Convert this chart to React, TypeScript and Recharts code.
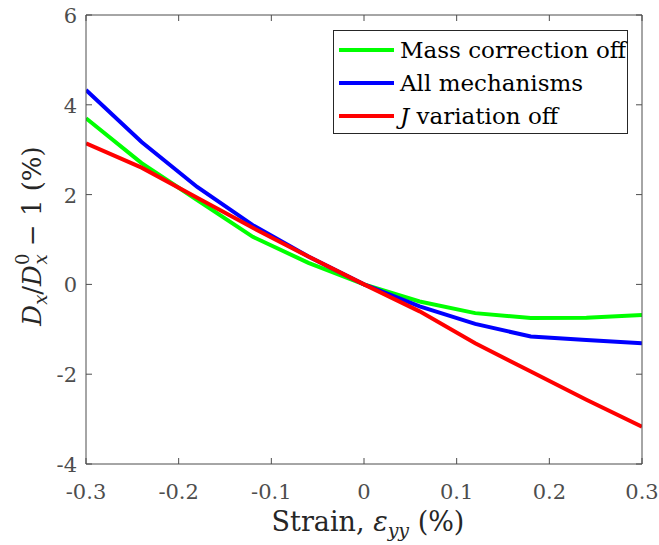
import React from "react";
import { LineChart, Line, XAxis, YAxis } from "recharts";

// ---- data ----
const strain = [-0.3, -0.24, -0.18, -0.12, -0.06, 0, 0.06, 0.12, 0.18, 0.24, 0.3];
const massCorrectionOff = [3.7, 2.7, 1.88, 1.06, 0.48, 0, -0.38, -0.64, -0.75, -0.74, -0.68];
const allMechanisms = [4.33, 3.17, 2.17, 1.32, 0.62, 0, -0.49, -0.88, -1.16, -1.24, -1.31];
const jVariationOff = [3.14, 2.6, 1.93, 1.26, 0.62, 0, -0.6, -1.31, -1.94, -2.57, -3.17];

const xTicks = [-0.3, -0.2, -0.1, 0, 0.1, 0.2, 0.3];
const yTicks = [-4, -2, 0, 2, 4, 6];

const data = strain.map((s, i) => ({
  strain: s,
  mass: massCorrectionOff[i],
  all: allMechanisms[i],
  jvar: jVariationOff[i],
}));

const W = 659;
const H = 545;
const LEFT = 86;
const RIGHT = 642;
const TOP = 15;
const BOTTOM = 464;
const TICK = 6;
const AXIS = "#4d4d4d";
const FONT = "'DejaVu Serif', serif";

const fmt = (v: number) => (v === 0 ? "0" : String(v));

const BottomTick = (props: any) => {
  const { x, payload } = props;
  return (
    <g>
      <line x1={x} x2={x} y1={BOTTOM} y2={BOTTOM - TICK} stroke={AXIS} />
      <text x={x} y={BOTTOM + 35} textAnchor="middle" fontSize={21} fill={AXIS} fontFamily={FONT}>
        {fmt(payload.value)}
      </text>
    </g>
  );
};

const TopTick = (props: any) => {
  const { x } = props;
  return <line x1={x} x2={x} y1={TOP} y2={TOP + TICK} stroke={AXIS} />;
};

const LeftTick = (props: any) => {
  const { y, payload } = props;
  return (
    <g>
      <line x1={LEFT} x2={LEFT + TICK} y1={y} y2={y} stroke={AXIS} />
      <text x={LEFT - 9} y={y + 8} textAnchor="end" fontSize={21} fill={AXIS} fontFamily={FONT}>
        {fmt(payload.value)}
      </text>
    </g>
  );
};

const RightTick = (props: any) => {
  const { y } = props;
  return <line x1={RIGHT} x2={RIGHT - TICK} y1={y} y2={y} stroke={AXIS} />;
};

const legendItems = [
  { color: "#00ff00", label: <>Mass correction off</> },
  { color: "#0000ff", label: <>All mechanisms</> },
  { color: "#ff0000", label: <><i>J</i> variation off</> },
];

const LegendBox = () => (
  <div
    style={{
      position: "absolute",
      left: 333,
      top: 30,
      width: 295,
      height: 104,
      border: "1px solid #262626",
      background: "#fff",
      boxSizing: "border-box",
      paddingTop: 2,
      fontFamily: FONT,
      fontSize: 23,
      color: "#000",
    }}
  >
    {legendItems.map((it, i) => (
      <div key={i} style={{ display: "flex", alignItems: "center", height: 33, whiteSpace: "nowrap" }}>
        <div style={{ width: 55, height: 4, background: it.color, marginLeft: 5, marginRight: 6 }} />
        <span>{it.label}</span>
      </div>
    ))}
  </div>
);

export default function App() {
  return (
    <div style={{ position: "absolute", left: 0, top: 0, width: W, height: H, background: "#fff" }}>
      <LineChart
        width={W}
        height={H}
        data={data}
        margin={{ top: TOP - 10, right: W - RIGHT - 10, left: LEFT - 60, bottom: H - BOTTOM - 40 }}
      >
        <XAxis
          dataKey="strain"
          type="number"
          domain={[-0.3, 0.3]}
          allowDataOverflow
          ticks={xTicks}
          height={40}
          tickLine={false}
          axisLine={{ stroke: AXIS }}
          tick={<BottomTick />}
          interval={0}
        />
        <XAxis
          xAxisId="top"
          orientation="top"
          dataKey="strain"
          type="number"
          domain={[-0.3, 0.3]}
          allowDataOverflow
          ticks={xTicks}
          height={10}
          tickLine={false}
          axisLine={{ stroke: AXIS }}
          tick={<TopTick />}
          interval={0}
        />
        <YAxis
          type="number"
          domain={[-4, 6]}
          allowDataOverflow
          ticks={yTicks}
          width={60}
          tickLine={false}
          axisLine={{ stroke: AXIS }}
          tick={<LeftTick />}
          interval={0}
        />
        <YAxis
          yAxisId="right"
          orientation="right"
          type="number"
          domain={[-4, 6]}
          allowDataOverflow
          ticks={yTicks}
          width={10}
          tickLine={false}
          axisLine={{ stroke: AXIS }}
          tick={<RightTick />}
          interval={0}
        />
        <Line dataKey="mass" stroke="#00ff00" strokeWidth={4} dot={false} isAnimationActive={false} />
        <Line dataKey="all" stroke="#0000ff" strokeWidth={4} dot={false} isAnimationActive={false} />
        <Line dataKey="jvar" stroke="#ff0000" strokeWidth={4} dot={false} isAnimationActive={false} />
      </LineChart>
      <LegendBox />
      <svg
        width={W}
        height={H}
        style={{ position: "absolute", left: 0, top: 0, pointerEvents: "none" }}
        fontFamily={FONT}
      >
        <text x={368} y={531} textAnchor="middle" fontSize={27} fill="#262626">
          Strain, <tspan fontStyle="italic">ε</tspan>
          <tspan fontStyle="italic" fontSize={19} dy={6}>yy</tspan>
          <tspan dy={-6}> (%)</tspan>
        </text>
        <text
          transform="translate(41, 236) rotate(-90)"
          textAnchor="middle"
          fontSize={26}
          fill="#262626"
        >
          <tspan fontStyle="italic">D</tspan>
          <tspan fontStyle="italic" fontSize={18} dy={6}>x</tspan>
          <tspan dy={-6}>/</tspan>
          <tspan fontStyle="italic">D</tspan>
          <tspan fontSize={18} dy={-12}>0</tspan>
          <tspan fontStyle="italic" fontSize={18} dx={-11} dy={18}>x</tspan>
          <tspan dy={-6}> − 1 (%)</tspan>
        </text>
      </svg>
    </div>
  );
}
